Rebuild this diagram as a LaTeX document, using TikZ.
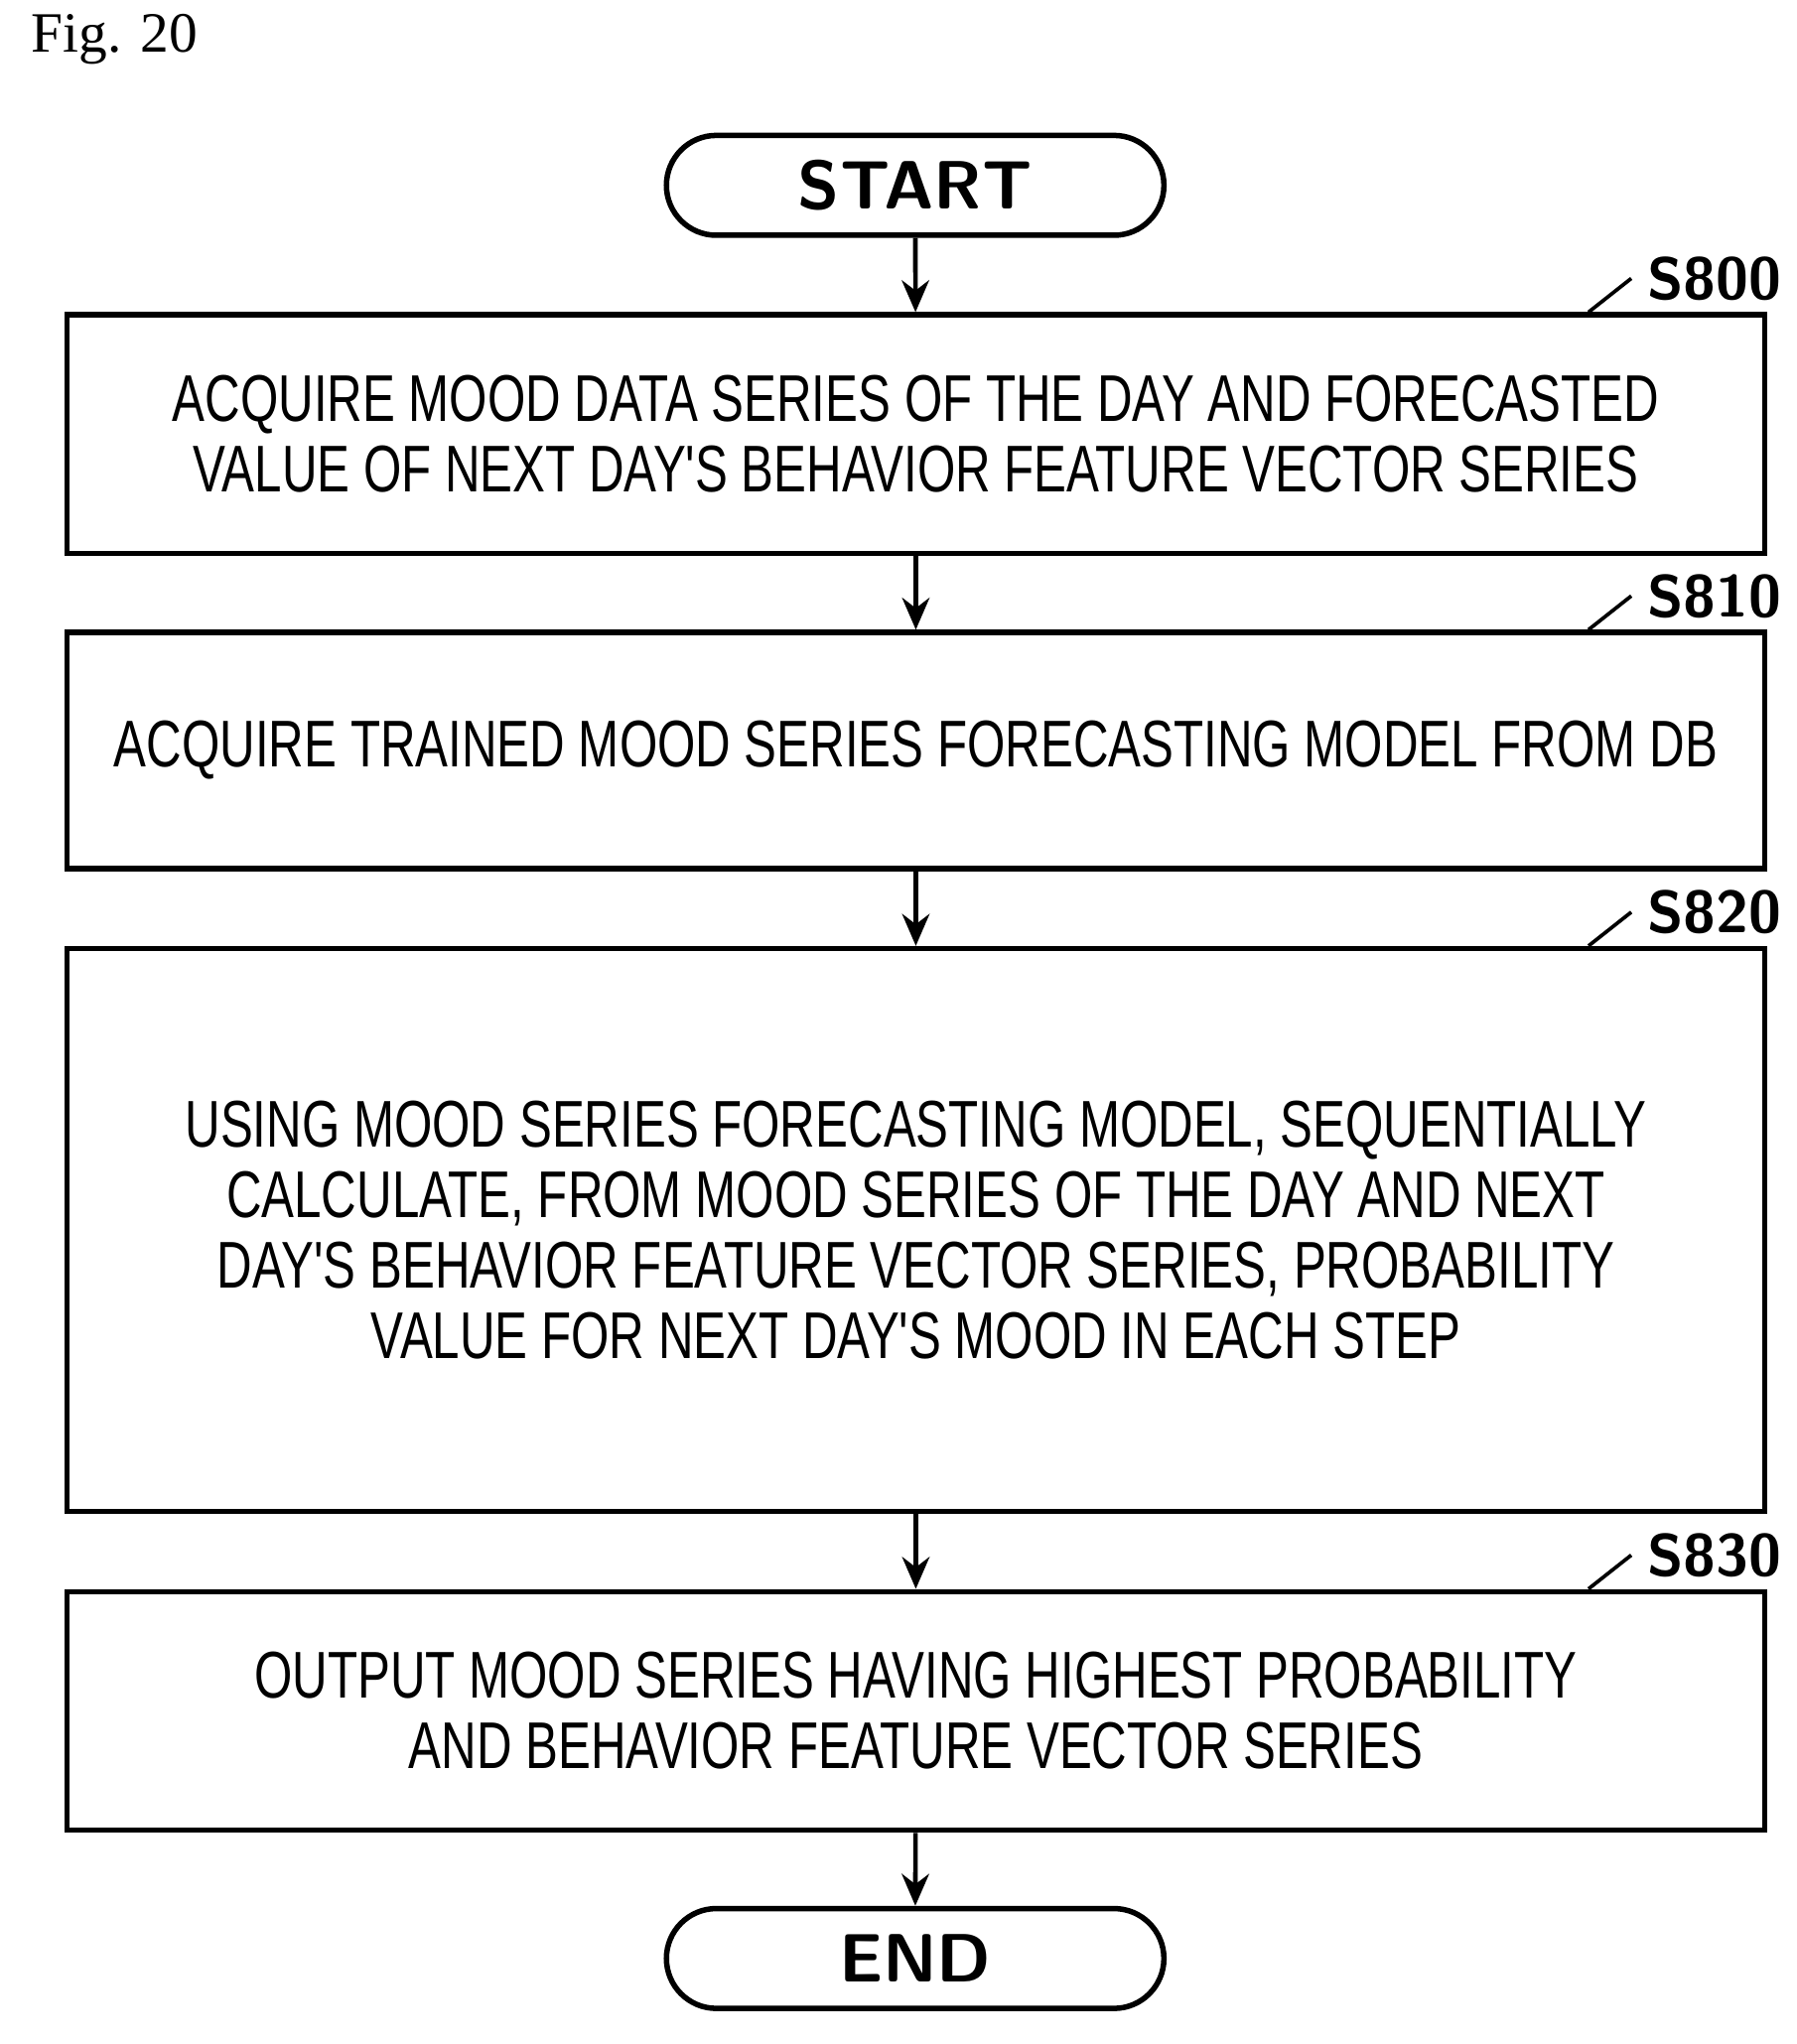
\documentclass[tikz,border=0pt]{standalone}
\usepackage{fontspec}
\setmainfont{Liberation Serif}
\newfontfamily\boxfont[FakeStretch=0.74]{Liberation Sans}
\usetikzlibrary{shapes.misc,arrows.meta}
\begin{document}
\begin{tikzpicture}[x=0.01cm,y=-0.01cm,
  box/.style={draw,line width=1.2pt,font=\boxfont\fontsize{14.5}{15.5}\selectfont,align=center},
  term/.style={draw,line width=1.2pt,rounded rectangle,minimum width=4.07cm,minimum height=0.77cm,font=\sffamily\bfseries\fontsize{15}{16}\selectfont},
  arr/.style={-{Stealth[length=7pt,width=6pt]},line width=1pt},
  lab/.style={font=\sffamily\bfseries\fontsize{13}{14}\selectfont,anchor=west}]
\useasboundingbox (0,0) rectangle (1386,1577);
\node[anchor=west,font=\fontsize{12.5}{14}\selectfont] (fig) at (12,30) {Fig. 20};
\node[term] (start) at (706,143) {START};
\node[box,minimum width=13.09cm,minimum height=1.84cm] (s800) at (706.5,335) {ACQUIRE MOOD DATA SERIES OF THE DAY AND FORECASTED\\VALUE OF NEXT DAY'S BEHAVIOR FEATURE VECTOR SERIES};
\node[box,minimum width=13.09cm,minimum height=1.82cm] (s810) at (706.5,579) {ACQUIRE TRAINED MOOD SERIES FORECASTING MODEL FROM DB};
\node[box,minimum width=13.09cm,minimum height=4.34cm] (s820) at (706.5,949) {USING MOOD SERIES FORECASTING MODEL, SEQUENTIALLY\\CALCULATE, FROM MOOD SERIES OF THE DAY AND NEXT\\DAY'S BEHAVIOR FEATURE VECTOR SERIES, PROBABILITY\\VALUE FOR NEXT DAY'S MOOD IN EACH STEP};
\node[box,minimum width=13.09cm,minimum height=1.84cm] (s830) at (706.5,1320) {OUTPUT MOOD SERIES HAVING HIGHEST PROBABILITY\\AND BEHAVIOR FEATURE VECTOR SERIES};
\node[term] (end) at (706,1511) {END};
\draw[arr] (start) -- (s800);
\draw[arr] (s800) -- (s810);
\draw[arr] (s810) -- (s820);
\draw[arr] (s820) -- (s830);
\draw[arr] (s830) -- (end);
\foreach \b/\t in {s800/S800,s810/S810,s820/S820,s830/S830}{
  \node[lab] (l\b) at ([xshift=-1.05cm,yshift=0.26cm]\b.north east) {\t};
  \draw[line width=0.8pt] ([xshift=-1.38cm]\b.north east) .. controls +(0.1,-0.2) and +(-0.15,0.05) .. +(0.3,-0.22) .. controls +(0.12,-0.03) and +(-0.1,0) .. (l\b.west);
}
\end{tikzpicture}
\end{document}
